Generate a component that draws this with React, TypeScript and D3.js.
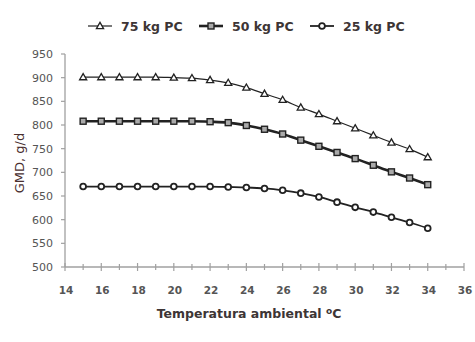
import React from "react";
import * as d3 from "d3";

const temps = [15, 16, 17, 18, 19, 20, 21, 22, 23, 24, 25, 26, 27, 28, 29, 30, 31, 32, 33, 34];
const pc75 = [901, 901, 901, 901, 901, 900, 899, 895, 889, 879, 866, 853, 837, 823, 808, 793, 778, 763, 749, 732];
const pc50 = [808, 808, 808, 808, 808, 808, 808, 807, 805, 799, 791, 781, 768, 755, 742, 729, 715, 701, 688, 674];
const pc25 = [670, 670, 670, 670, 670, 670, 670, 670, 669, 668, 666, 662, 656, 648, 637, 626, 616, 605, 594, 582];
const seriesNames = ["75 kg PC", "50 kg PC", "25 kg PC"];
const xTicks = [14, 16, 18, 20, 22, 24, 26, 28, 30, 32, 34, 36];
const yTicks = [500, 550, 600, 650, 700, 750, 800, 850, 900, 950];

const W = 475, H = 342;
const x = d3.scaleLinear().domain([14, 36]).range([65, 464]);
const y = d3.scaleLinear().domain([500, 950]).range([267, 54]);

const styles = [
  { data: pc75, lw: 1.2, marker: "tri", mstroke: 1.3, fill: "#fff" },
  { data: pc50, lw: 2.6, marker: "sq", mstroke: 1.4, fill: "#aaa" },
  { data: pc25, lw: 1.8, marker: "circ", mstroke: 1.8, fill: "#fff" },
];

function Marker({ kind, cx, cy, sw, fill }: any) {
  if (kind === "tri") {
    const p = d3.symbol(d3.symbolTriangle, 22)();
    return <path d={p!} transform={`translate(${cx},${cy + 0.5})`} fill={fill} stroke="#222" strokeWidth={sw} />;
  }
  if (kind === "sq") {
    return <rect x={cx - 3} y={cy - 3} width={6} height={6} fill={fill} stroke="#222" strokeWidth={sw} />;
  }
  return <circle cx={cx} cy={cy} r={2.9} fill={fill} stroke="#222" strokeWidth={sw} />;
}

export default function App() {
  const line = d3
    .line<number>()
    .x((_, i) => x(temps[i]))
    .y((d) => y(d))
    .curve(d3.curveMonotoneX);
  const minor = d3.range(14, 37, 1);
  const legendX = [88, 199, 310];
  return (
    <svg width={W} height={H} style={{ position: "absolute", left: 0, top: 0, background: "#fff" }}>
      {/* legend */}
      {styles.map((s, i) => (
        <g key={i}>
          <line x1={legendX[i]} x2={legendX[i] + 24} y1={26} y2={26} stroke="#222" strokeWidth={s.lw} />
          <Marker kind={s.marker} cx={legendX[i] + 12} cy={26} sw={s.mstroke} fill={s.fill} />
          <text x={legendX[i] + 33} y={30.5} fontFamily="DejaVu Sans" fontWeight="bold" fontSize={12.5} fill="#3d3535">
            {seriesNames[i]}
          </text>
        </g>
      ))}
      {/* y axis */}
      <line x1={65} x2={65} y1={y(950)} y2={y(500)} stroke="#a0a0a0" strokeWidth={1.3} />
      {yTicks.map((t) => (
        <g key={t}>
          <line x1={61} x2={65} y1={y(t)} y2={y(t)} stroke="#a0a0a0" strokeWidth={1.2} />
          <text x={53} y={y(t) + 4} textAnchor="end" fontFamily="DejaVu Sans" fontSize={11} fill="#555">
            {t}
          </text>
        </g>
      ))}
      {/* x axis */}
      <line x1={x(14)} x2={x(36)} y1={267} y2={267} stroke="#a0a0a0" strokeWidth={1.3} />
      {minor.map((t) => (
        <line key={t} x1={x(t)} x2={x(t)} y1={t % 2 === 0 ? 263 : 264} y2={t % 2 === 0 ? 271 : 270} stroke="#a0a0a0" strokeWidth={1.2} />
      ))}
      {xTicks.map((t) => (
        <text key={t} x={x(t) + 1} y={294} textAnchor="middle" fontFamily="DejaVu Sans" fontWeight="bold" fontSize={10.5} fill="#555">
          {t}
        </text>
      ))}
      <text x={249} y={318} textAnchor="middle" fontFamily="DejaVu Sans" fontWeight="bold" fontSize={12.5} fill="#3d3535">
        Temperatura ambiental <tspan fontSize={9} dy={-4}>o</tspan><tspan dy={4}>C</tspan>
      </text>
      <text transform="translate(24,163) rotate(-90)" textAnchor="middle" fontFamily="DejaVu Sans" fontSize={13} fill="#4a3030">
        GMD, g/d
      </text>
      {/* series */}
      {styles.map((s, i) => (
        <g key={i}>
          <path d={line(s.data)!} fill="none" stroke="#222" strokeWidth={s.lw} />
          {s.data.map((v, j) => (
            <Marker key={j} kind={s.marker} cx={x(temps[j])} cy={y(v)} sw={s.mstroke} fill={s.fill} />
          ))}
        </g>
      ))}
    </svg>
  );
}
